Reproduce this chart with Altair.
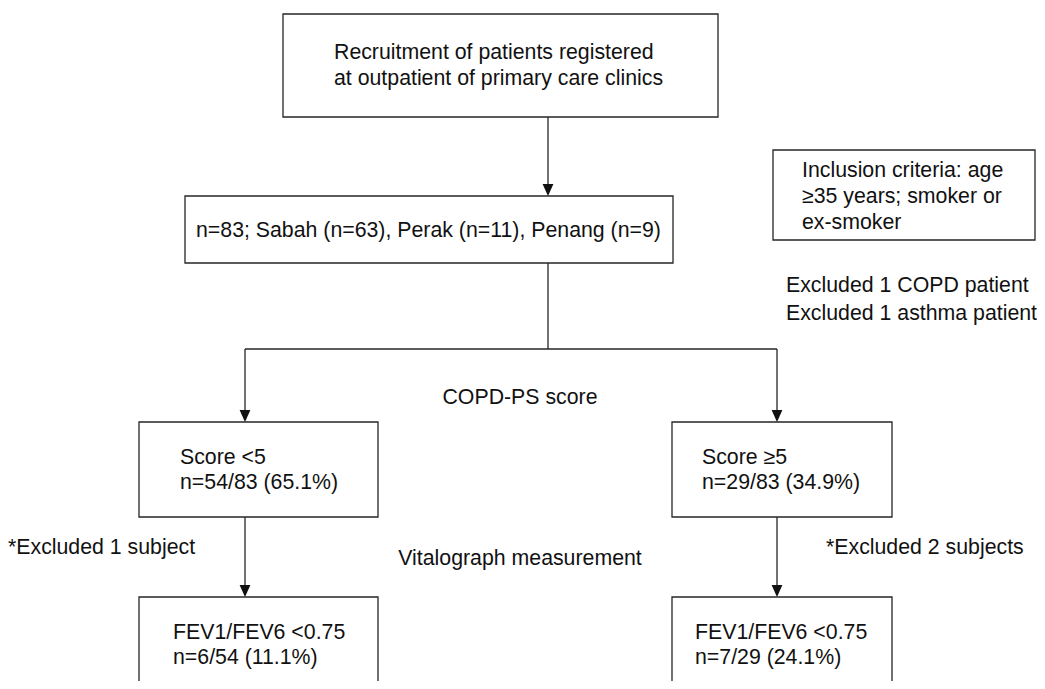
import altair as alt
import pandas as pd

# ---- content ----
labels = [
    "Recruitment of patients registered",
    "at outpatient of primary care clinics",
    "n=83; Sabah (n=63), Perak (n=11), Penang (n=9)",
    "Inclusion criteria: age",
    "\u226535 years; smoker or",
    "ex-smoker",
    "Excluded 1 COPD patient",
    "Excluded 1 asthma patient",
    "COPD-PS score",
    "Score <5",
    "n=54/83 (65.1%)",
    "Score \u22655",
    "n=29/83 (34.9%)",
    "*Excluded 1 subject",
    "Vitalograph measurement",
    "*Excluded 2 subjects",
    "FEV1/FEV6 <0.75",
    "n=6/54 (11.1%)",
    "FEV1/FEV6 <0.75",
    "n=7/29 (24.1%)",
]
label_x = [334, 334, 196, 802, 802, 802, 786, 786, 520, 180, 180, 702, 702, 8, 520, 826, 173, 173, 695, 695]
label_y = [59, 85, 237, 177, 203, 229, 292, 320, 404, 464, 489, 464, 489, 554, 565, 554, 639, 664, 639, 664]
label_align = ["left", "left", "left", "left", "left", "left", "left", "left", "center",
               "left", "left", "left", "left", "left", "center", "left", "left", "left", "left", "left"]

# boxes
box_x0 = [283, 185, 773, 139, 672, 139, 672]
box_x1 = [718, 673, 1035, 378, 892, 378, 892]
box_y0 = [14, 196, 150, 422, 422, 597, 597]
box_y1 = [117, 263, 240, 517, 517, 720, 720]

# connectors
line_x0 = [548, 548, 245, 245, 777, 245, 777]
line_y0 = [117, 263, 349, 349, 349, 517, 517]
line_x1 = [548, 548, 777, 245, 777, 245, 777]
line_y1 = [190, 349, 349, 416, 416, 591, 591]

# arrow tips
tip_x = [548, 245, 777, 245, 777]
tip_y = [196, 422, 422, 597, 597]

texts = pd.DataFrame({"label": labels, "x": label_x, "y": label_y, "align": label_align})
boxes = pd.DataFrame({"x0": box_x0, "x1": box_x1, "y0": box_y0, "y1": box_y1})
lines = pd.DataFrame({"x0": line_x0, "x1": line_x1, "y0": line_y0, "y1": line_y1})
tips = pd.DataFrame({"x": tip_x, "y": tip_y})

W, H = 1029, 673
xs = alt.Scale(domain=[8, 8 + W], nice=False, zero=False)
ys = alt.Scale(domain=[8, 8 + H], nice=False, zero=False, reverse=True)

INK = "#262626"

box_layer = alt.Chart(boxes).mark_rect(
    fill="white", stroke=INK, strokeWidth=1.3, clip=True
).encode(
    x=alt.X("x0:Q", scale=xs, axis=None),
    x2="x1:Q",
    y=alt.Y("y0:Q", scale=ys, axis=None),
    y2="y1:Q",
)

line_layer = alt.Chart(lines).mark_rule(color=INK, strokeWidth=1.3).encode(
    x=alt.X("x0:Q", scale=xs, axis=None),
    x2="x1:Q",
    y=alt.Y("y0:Q", scale=ys, axis=None),
    y2="y1:Q",
)

tip_layer = alt.Chart(tips).mark_point(
    shape="M0,0 L-0.45,-1 L0.45,-1 Z", size=576, filled=True, color="#111111", opacity=1
).encode(
    x=alt.X("x:Q", scale=xs, axis=None),
    y=alt.Y("y:Q", scale=ys, axis=None),
)

def text_layer(align):
    return alt.Chart(texts[texts["align"] == align]).mark_text(
        align=align, baseline="alphabetic", font="Liberation Sans", fontSize=21.3, color="#111111"
    ).encode(
        x=alt.X("x:Q", scale=xs, axis=None),
        y=alt.Y("y:Q", scale=ys, axis=None),
        text="label:N",
    )

chart = alt.layer(
    line_layer, box_layer, tip_layer, text_layer("left"), text_layer("center")
).properties(
    width=W, height=H, padding=0, autosize=alt.AutoSizeParams(type="none"), background="white"
).configure_view(stroke=None)

chart.save("out.html", embed_options={"renderer": "svg", "actions": False})
